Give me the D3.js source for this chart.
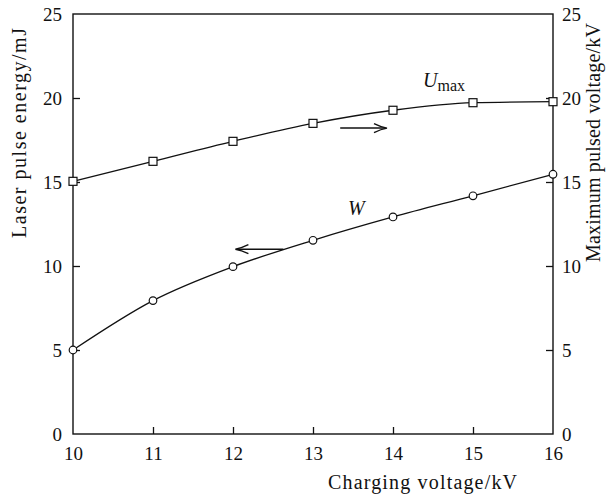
<!DOCTYPE html>
<html><head><meta charset="utf-8">
<script src="https://cdn.jsdelivr.net/npm/d3@7"></script>
<style>
html,body{margin:0;padding:0;background:#fff;}
text{font-family:"Liberation Serif","Times New Roman",serif;fill:#111;}
</style></head>
<body>
<svg id="c" width="613" height="499"></svg>
<script>
const chargingVoltage = [10, 11, 12, 13, 14, 15, 16];
const laserEnergyW = [5.0, 7.94, 9.96, 11.53, 12.92, 14.18, 15.46];
const maxPulsedVoltageU = [15.04, 16.23, 17.42, 18.49, 19.27, 19.72, 19.78];
const xTicks = [10, 11, 12, 13, 14, 15, 16];
const yTicks = [0, 5, 10, 15, 20, 25];

const svg = d3.select("#c");
const L = 73, R = 553, T = 14, B = 434;
const x = d3.scaleLinear().domain([10, 16]).range([L, R]);
const yL = d3.scaleLinear().domain([0, 25]).range([B, T]);
const yR = d3.scaleLinear().domain([0, 25]).range([B, T]);

// frame
svg.append("rect").attr("x", L).attr("y", T).attr("width", R - L).attr("height", B - T)
  .attr("fill", "none").attr("stroke", "#111").attr("stroke-width", 1.4);

const tickLen = 7;
const gx = svg.append("g").attr("transform", `translate(0,${B})`)
  .call(d3.axisBottom(x).tickValues(xTicks).tickFormat(d3.format("d")).tickSizeInner(-tickLen).tickSizeOuter(0).tickPadding(13));
const gl = svg.append("g").attr("transform", `translate(${L},0)`)
  .call(d3.axisLeft(yL).tickValues(yTicks).tickSizeInner(-tickLen).tickSizeOuter(0).tickPadding(11));
const gr = svg.append("g").attr("transform", `translate(${R},0)`)
  .call(d3.axisRight(yR).tickValues(yTicks).tickSizeInner(-tickLen).tickSizeOuter(0).tickPadding(9));

[gx, gl, gr].forEach(g => {
  g.select(".domain").remove();
  g.selectAll(".tick line").attr("stroke", "#111").attr("stroke-width", 1.3);
  g.selectAll(".tick text").attr("font-size", 19).attr("font-family", "Liberation Serif").attr("fill", "#111");
});
gx.selectAll(".tick").filter(d => d === 10 || d === 16).select("line").remove();
gl.selectAll(".tick").filter(d => d === 0 || d === 25).select("line").remove();
gr.selectAll(".tick").filter(d => d === 0 || d === 25).select("line").remove();

// axis titles
svg.append("text").attr("x", 328).attr("y", 489).attr("text-anchor", "start")
  .attr("font-size", 20).attr("textLength", 189).attr("lengthAdjust", "spacing")
  .text("Charging voltage/kV");
svg.append("text").attr("transform", `translate(26,133) rotate(-90)`).attr("text-anchor", "middle")
  .attr("font-size", 20).attr("textLength", 210).attr("lengthAdjust", "spacing")
  .text("Laser pulse energy/mJ");
svg.append("text").attr("transform", `translate(600,142.5) rotate(-90)`).attr("text-anchor", "middle")
  .attr("font-size", 20).attr("textLength", 239).attr("lengthAdjust", "spacing")
  .text("Maximum pulsed voltage/kV");

const curve = d3.curveMonotoneX;
const wData = chargingVoltage.map((v, i) => [v, laserEnergyW[i]]);
svg.append("path").datum(wData)
  .attr("d", d3.line().x(d => x(d[0])).y(d => yL(d[1])).curve(curve))
  .attr("fill", "none").attr("stroke", "#111").attr("stroke-width", 1.3);
svg.selectAll(".w").data(wData).enter().append("circle")
  .attr("cx", d => x(d[0])).attr("cy", d => yL(d[1])).attr("r", 3.8)
  .attr("fill", "#fff").attr("stroke", "#111").attr("stroke-width", 1.2);

const uData = chargingVoltage.map((v, i) => [v, maxPulsedVoltageU[i]]);
svg.append("path").datum(uData)
  .attr("d", d3.line().x(d => x(d[0])).y(d => yR(d[1])).curve(curve))
  .attr("fill", "none").attr("stroke", "#111").attr("stroke-width", 1.3);
svg.selectAll(".u").data(uData).enter().append("rect")
  .attr("x", d => x(d[0]) - 4).attr("y", d => yR(d[1]) - 4).attr("width", 8).attr("height", 8)
  .attr("fill", "#fff").attr("stroke", "#111").attr("stroke-width", 1.2);

// arrows
function arrow(x1, y1, x2, dir) {
  svg.append("line").attr("x1", x1).attr("y1", y1).attr("x2", x2 - dir * 2).attr("y2", y1)
    .attr("stroke", "#111").attr("stroke-width", 1.5);
  const s = dir;
  svg.append("path").attr("d", `M${x2 - s * 13},${y1 - 4.5} Q${x2 - s * 6},${y1 - 1} ${x2},${y1} Q${x2 - s * 6},${y1 + 1} ${x2 - s * 13},${y1 + 4.5}`)
    .attr("fill", "none").attr("stroke", "#111").attr("stroke-width", 1.4);
}
arrow(x(13.34), yR(18.21), x(13.925), 1);
arrow(x(12.63), yL(11.0), x(12.03), -1);

// series labels
const ut = svg.append("text").attr("x", 423).attr("y", 87).attr("font-size", 20);
ut.append("tspan").attr("font-style", "italic").text("U");
ut.append("tspan").attr("font-size", 16).attr("dy", 4).text("max");
svg.append("text").attr("x", 348).attr("y", 215).attr("font-size", 20).attr("font-style", "italic").text("W");
</script>
</body></html>
